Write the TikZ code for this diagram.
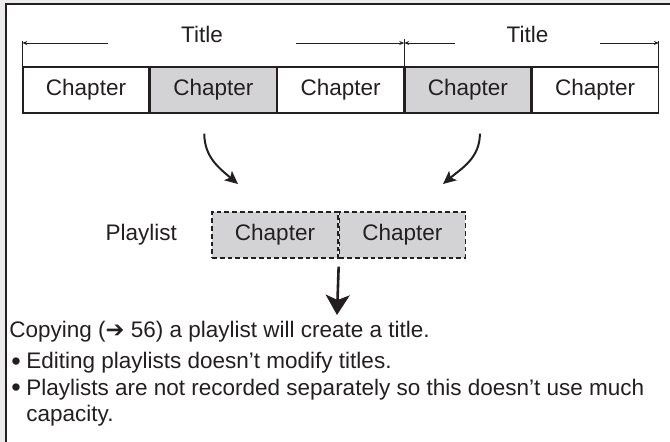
\documentclass[tikz,border=0pt]{standalone}
\usepackage{fontspec}
\setmainfont{Liberation Sans}
\newfontfamily\dingfont{DejaVu Sans Bold}
\usetikzlibrary{arrows.meta,positioning}
\definecolor{inkgray}{RGB}{35,31,32}
\definecolor{cellgray}{RGB}{211,211,213}
\definecolor{margingray}{RGB}{236,236,236}

\begin{document}
\begin{tikzpicture}[x=0.5pt,y=-0.5pt,>=Stealth,
  font=\fontsize{11.25}{12.75}\selectfont,text=inkgray,
  lbl/.style={inner sep=0pt},
  dotlbl/.style={lbl,anchor=base,text height=1pt,text depth=0pt,font=\fontsize{13.5}{13.5}\selectfont},
  chapbox/.style={draw=inkgray,line width=0.65pt,minimum width=63pt,minimum height=23pt,inner sep=0pt},
  listbox/.style={chapbox,fill=cellgray,dash pattern=on 2.4pt off 1.5pt},
  titlelbl/.style={lbl,anchor=base,minimum height=0pt},
  spanarrow/.style={inkgray,line width=0.4pt,-{Stealth[length=2.5pt,width=2pt]}},
  bendarrow/.style={inkgray,line width=1pt,-{Stealth[length=6.5pt,width=6pt,inset=1.5pt]}},
  downarrow/.style={inkgray,line width=1.3pt,-{Stealth[length=10pt,width=12pt,inset=2.5pt]}}]
  \useasboundingbox (0,0) rectangle (670,442);
  \fill[margingray] (0,0) rectangle (670,442);
  \fill[white] (6,5) rectangle (670,442);
  \draw[inkgray,line width=1pt] (6,442) -- (6,4) -- (670,4);

  \node[chapbox] (c1) at (86,90) {Chapter};
  \node[chapbox,fill=cellgray,right=0pt of c1] (c2) {Chapter};
  \node[chapbox,right=0pt of c2] (c3) {Chapter};
  \node[chapbox,fill=cellgray,right=0pt of c3] (c4) {Chapter};
  \node[chapbox,right=0pt of c4] (c5) {Chapter};

  \node[titlelbl,minimum width=94pt] (t1) at (202,43) {Title};
  \node[titlelbl,minimum width=72.5pt] (t2) at (527.5,43) {Title};
  \draw[inkgray,line width=0.5pt] (c1.north west) -- ++(0,-25);
  \draw[inkgray,line width=0.5pt] (c3.north east) -- ++(0,-27);
  \draw[inkgray,line width=0.5pt] (c5.north east) -- ++(0,-25);
  \draw[spanarrow] (t1.base west) -- (t1.base west -| c1.west);
  \draw[spanarrow] (t1.base east) -- (t1.base east -| c3.east);
  \draw[spanarrow] (t2.base west) -- (t2.base west -| c4.west);
  \draw[spanarrow] (t2.base east) -- (t2.base east -| c5.east);

  \node[listbox] (p1) at (275,235) {Chapter};
  \node[listbox,right=0pt of p1] (p2) {Chapter};
  \node[lbl,left=17pt of p1] (pl) {Playlist};

  \coordinate (a1) at ([xshift=-4.5pt,yshift=-10pt]c2.south);
  \coordinate (b1) at (238,184);
  \coordinate (a2) at ([xshift=6pt,yshift=-10pt]c4.south);
  \coordinate (b2) at (443,184);
  \draw[bendarrow] (a1) to[out=-90,in=140] (b1);
  \draw[bendarrow] (a2) to[out=-90,in=40] (b2);
  \coordinate (d0) at ([yshift=-4pt]p1.south east);
  \coordinate (d1) at (337,315);
  \draw[downarrow] (d0) -- (d1);

  \node[lbl,anchor=base west] (copy) at (9,338) {Copying ({\dingfont ➔} 56) a playlist will create a title.};
  \node[dotlbl] (bul1) at (16,369) {\raisebox{-0.6pt}{•}};
  \node[lbl,anchor=base west] (note1) at (26,369) {Editing playlists doesn’t modify titles.};
  \node[dotlbl] (bul2) at (16,395) {\raisebox{-0.6pt}{•}};
  \node[lbl,anchor=north west,align=left] (note2) at (26,379) {Playlists are not recorded separately so this doesn’t use much\\capacity.};
\end{tikzpicture}
\end{document}
